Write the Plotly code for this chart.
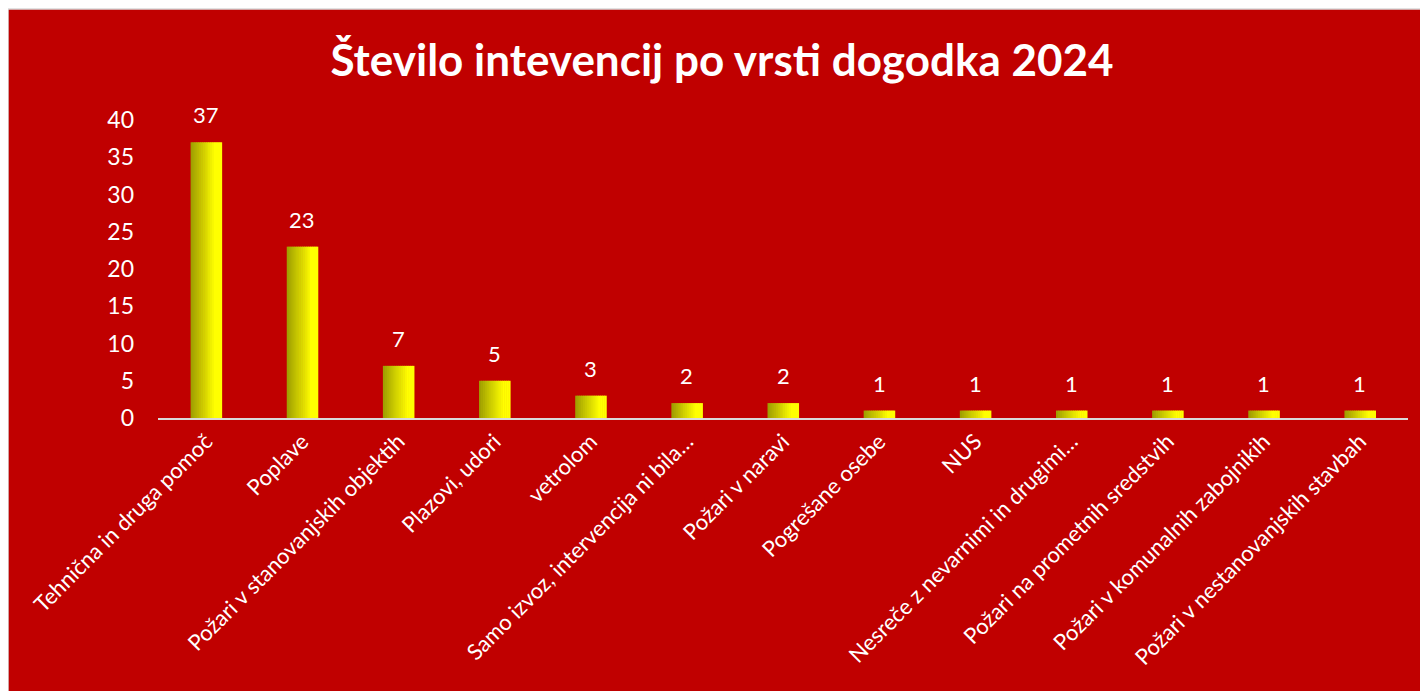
import plotly.graph_objects as go

categories = [
    "Tehnična in druga pomoč",
    "Poplave",
    "Požari v stanovanjskih objektih",
    "Plazovi, udori",
    "vetrolom",
    "Samo izvoz, intervencija ni bila…",
    "Požari v naravi",
    "Pogrešane osebe",
    "NUS",
    "Nesreče z nevarnimi in drugimi…",
    "Požari na prometnih sredstvih",
    "Požari v komunalnih zabojnikih",
    "Požari v nestanovanjskih stavbah",
]
values = [37, 23, 7, 5, 3, 2, 2, 1, 1, 1, 1, 1, 1]
title_text = "Število intevencij po vrsti dogodka 2024"
y_ticks = [0, 5, 10, 15, 20, 25, 30, 35, 40]

# page body has an 8px margin, so the figure is sized to fill the rest
W, H = 1420, 683
ML, MR, MT, MB = 150, 20, 112, 273
PW = W - ML - MR
PH = H - MT - MB

FONT = "Lato"
RED = "#C00000"

fig = go.Figure()

# gradient bar built from narrow slices
bar_w = 0.322
n_slices = 16
c0 = (160, 160, 0)
c1 = (255, 255, 0)
for i in range(n_slices):
    t = min(1.0, i / (n_slices - 1) / 0.8)
    col = tuple(int(round(c0[k] + (c1[k] - c0[k]) * t)) for k in range(3))
    sw = bar_w / n_slices
    fig.add_trace(go.Bar(
        x=categories, y=values,
        width=sw * 1.3, offset=-bar_w / 2 + i * sw,
        marker=dict(color="rgb(%d,%d,%d)" % col, line=dict(width=0)),
        hoverinfo="skip", showlegend=False,
    ))

for c, v in zip(categories, values):
    fig.add_annotation(x=c, y=v, text=str(v), showarrow=False,
                       yanchor="bottom", yshift=12,
                       font=dict(family=FONT, size=22, color="white"))

def px_to_paper_x(px):
    return (px - ML) / PW

def py_to_paper_y(py):
    return (H - MB - py) / PH

fig.add_shape(type="rect", xref="paper", yref="paper",
              x0=px_to_paper_x(0.0), x1=px_to_paper_x(W + 10),
              y0=py_to_paper_y(H + 10), y1=py_to_paper_y(1.0),
              fillcolor=RED, line=dict(color="#D9D9D9", width=1.5),
              layer="below")

fig.update_layout(
    width=W, height=H,
    margin=dict(l=ML, r=MR, t=MT, b=MB),
    paper_bgcolor="white",
    plot_bgcolor="rgba(0,0,0,0)",
    barmode="overlay",
    title=dict(text="<b>%s</b>" % title_text, x=714 / W, xanchor="center",
               y=1 - 53 / H, yanchor="middle",
               font=dict(family=FONT, size=44, color="white")),
    showlegend=False,
    xaxis=dict(showgrid=False, showline=True, linecolor="#D9D9D9", linewidth=2,
               ticks="", tickangle=-45, zeroline=False,
               tickfont=dict(family=FONT, size=22, color="white")),
    yaxis=dict(range=[0, 40], tickvals=y_ticks, showgrid=False, zeroline=False,
               showline=False, ticks="", ticklabelstandoff=23,
               tickfont=dict(family=FONT, size=23, color="white")),
)

fig.write_html("out.html")
